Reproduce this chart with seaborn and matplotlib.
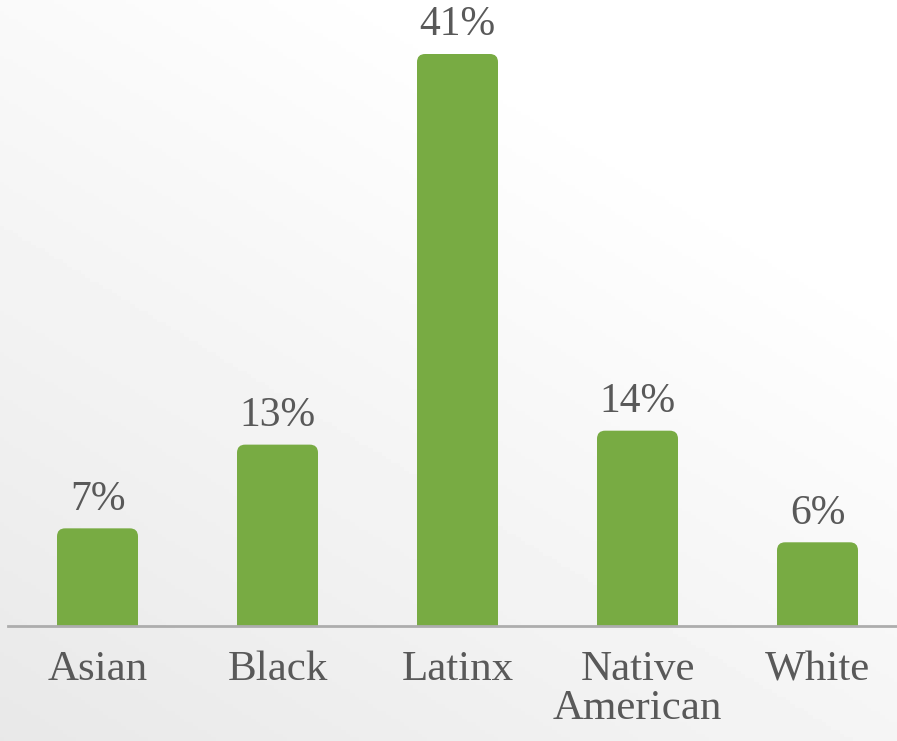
import numpy as np
import pandas as pd
import matplotlib
matplotlib.use("Agg")
import matplotlib.pyplot as plt
import seaborn as sns
from matplotlib import font_manager as fm
from matplotlib.patches import FancyBboxPatch

# -------------------------------
# DATA
# -------------------------------
groups = ["Asian", "Black", "Latinx", "Native\nAmerican", "White"]
percents = [7, 13, 41, 14, 6]
labels = ["7%", "13%", "41%", "14%", "6%"]

df = pd.DataFrame({"group": groups, "pct": percents})

bar_color = "#78AB43"
text_color = "#595959"

# regular Liberation Serif file, by name of the file
serif_file = None
for f in fm.fontManager.ttflist:
    if f.fname.endswith("LiberationSerif-Regular.ttf"):
        serif_file = f.fname
        break
if serif_file:
    fm.fontManager.addfont(serif_file)
plt.rcParams["font.family"] = "serif"
plt.rcParams["font.serif"] = ["Liberation Serif", "DejaVu Serif"]


def serif_font(size):
    if serif_file:
        return fm.FontProperties(fname=serif_file, size=size)
    return fm.FontProperties(family="serif", size=size)


fig = plt.figure(figsize=(8.97, 7.41), dpi=100)

# -------------------------------
# BACKGROUND GRADIENT
# -------------------------------
bg = fig.add_axes([0, 0, 1, 1], zorder=-1)
yy, xx = np.mgrid[0:1:200j, 0:1:200j]
grad = 0.91 + 0.09 * np.clip(0.55 * xx + 0.75 * yy, 0, 1)
bg.imshow(grad, cmap="gray", vmin=0, vmax=1, origin="lower",
          extent=[0, 1, 0, 1], aspect="auto")
bg.axis("off")

# -------------------------------
# BAR CHART
# -------------------------------
ax = fig.add_axes([7.5 / 897, 115 / 741, 900 / 897, 572 / 741])
ax.patch.set_alpha(0)
sns.barplot(data=df, x="group", y="pct", color=bar_color, width=0.45,
            saturation=1, ax=ax)

ax.set_xlim(-0.5, 4.5)
ax.set_ylim(0, 41)

# swap plain bars for ones with rounded tops
for p in list(ax.patches):
    x, w, h = p.get_x(), p.get_width(), p.get_height()
    p.set_visible(False)
    rb = FancyBboxPatch((x, -3), w, h + 3,
                        boxstyle="round,pad=0,rounding_size=0.045",
                        mutation_aspect=13,
                        facecolor=bar_color, edgecolor="none",
                        clip_on=True, zorder=2)
    ax.add_patch(rb)

for i, (h, lab) in enumerate(zip(percents, labels)):
    ax.annotate(lab, (i, h), xytext=(0, 7), textcoords="offset points",
                ha="center", va="bottom", fontproperties=serif_font(30),
                color=text_color)

for side in ["left", "top", "right"]:
    ax.spines[side].set_visible(False)
ax.spines["bottom"].set_color("#ADADAD")
ax.spines["bottom"].set_linewidth(2)
ax.set_yticks([])
ax.set_xlabel("")
ax.set_ylabel("")
ax.tick_params(axis="x", length=0, pad=18)
ax.set_xticks(range(len(groups)))
ax.set_xticklabels(groups, fontproperties=serif_font(31), color=text_color,
                   linespacing=1.0, va="top")

fig.savefig("out.png", dpi=100)
